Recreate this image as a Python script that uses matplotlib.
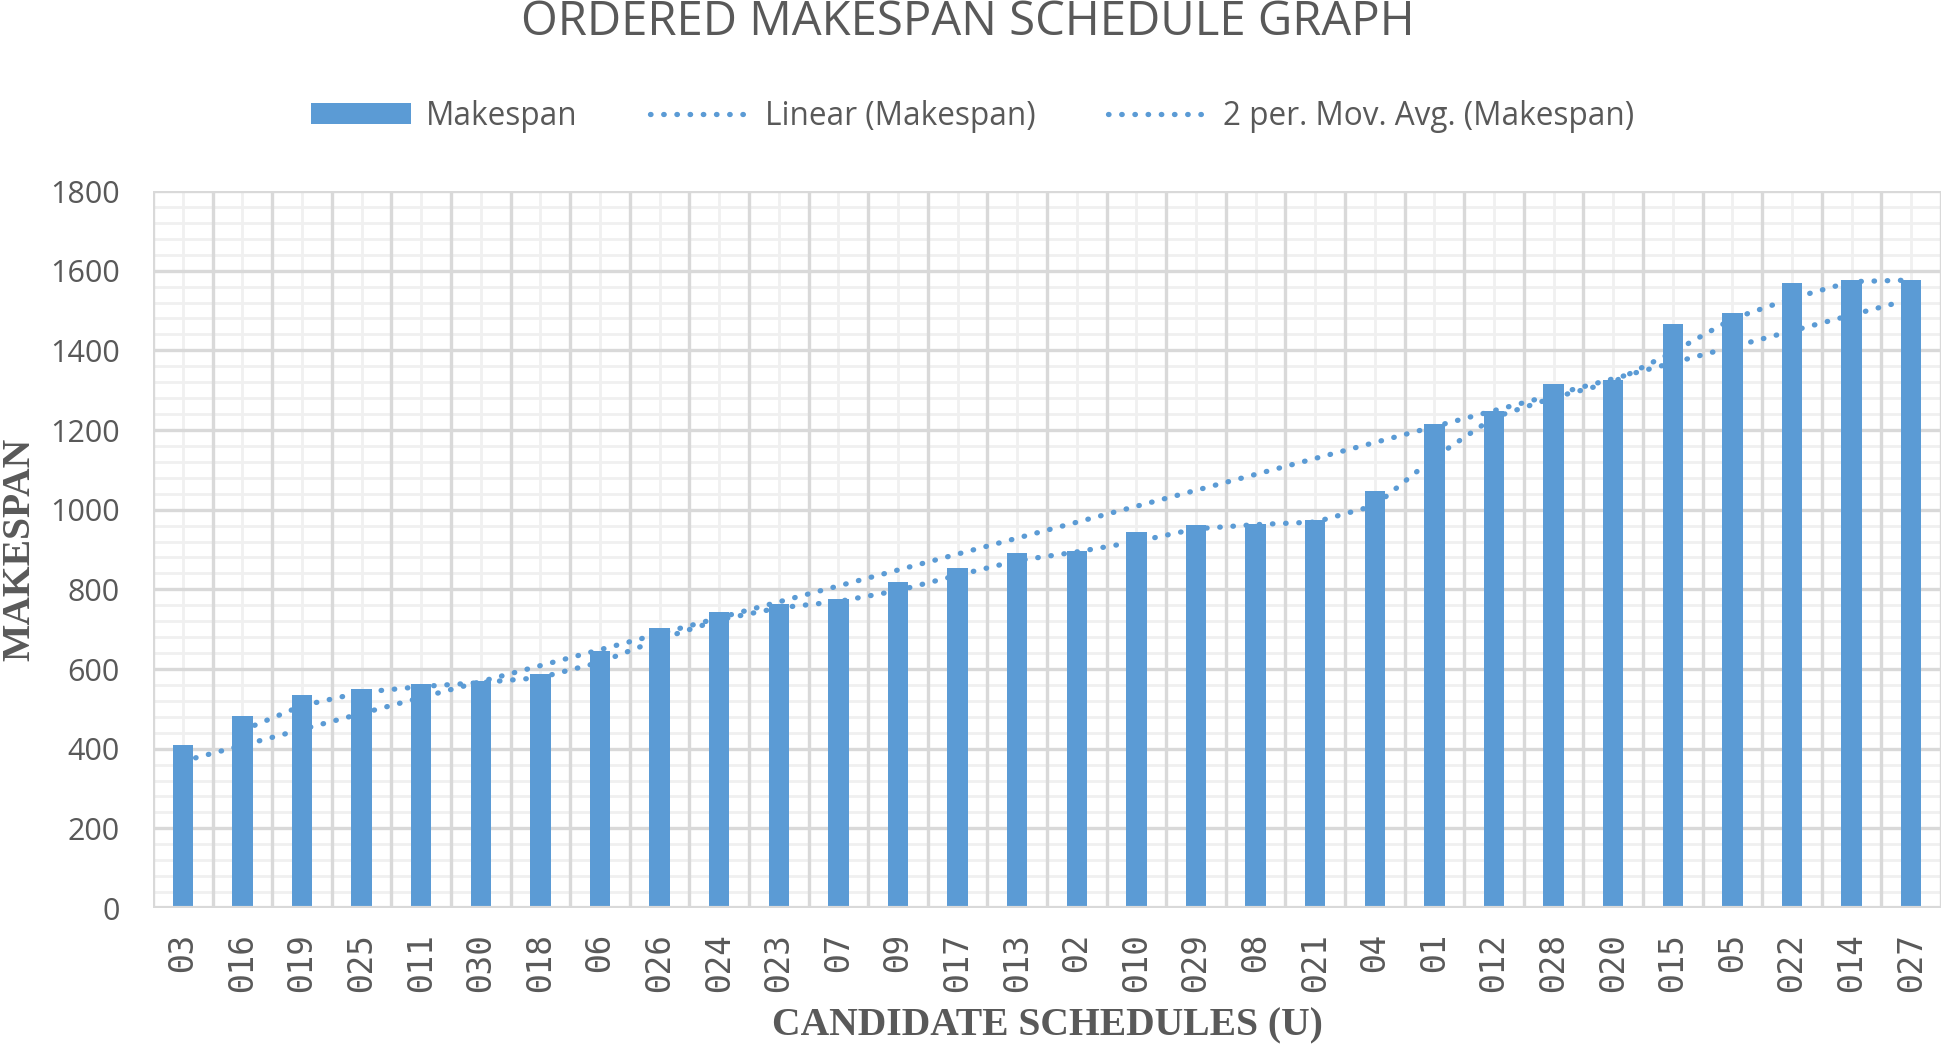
import numpy as np
import matplotlib
matplotlib.use("Agg")
import matplotlib.pyplot as plt
from matplotlib.patches import Patch
from matplotlib.lines import Line2D

categories = ["Θ3", "Θ16", "Θ19", "Θ25", "Θ11", "Θ30", "Θ18", "Θ6", "Θ26", "Θ24",
              "Θ23", "Θ7", "Θ9", "Θ17", "Θ13", "Θ2", "Θ10", "Θ29", "Θ8", "Θ21",
              "Θ4", "Θ1", "Θ12", "Θ28", "Θ20", "Θ15", "Θ5", "Θ22", "Θ14", "Θ27"]
makespan = [410, 482, 534, 549, 563, 569, 588, 646, 703, 744,
            763, 776, 818, 853, 891, 897, 943, 961, 964, 974,
            1047, 1215, 1248, 1315, 1326, 1465, 1493, 1568, 1577, 1576]
y_ticks = [0, 200, 400, 600, 800, 1000, 1200, 1400, 1600, 1800]

title = "ORDERED MAKESPAN SCHEDULE GRAPH"
xlabel = "CANDIDATE SCHEDULES (U)"
ylabel = "MAKESPAN"

BAR = "#5B9BD5"
TXT = "#595959"

fig = plt.figure(figsize=(19.47, 10.49), dpi=100)
ax = fig.add_axes([0.0786, 0.1344, 0.9183, 0.6835])

x = np.arange(len(categories))
vals = np.array(makespan, dtype=float)

ax.bar(x, vals, width=0.34, color=BAR, zorder=3)

# linear trendline
coef = np.polyfit(x, vals, 1)
lin = np.polyval(coef, x)
dot = dict(color=BAR, lw=3.8, linestyle=(0, (0.1, 2.4)), dash_capstyle="round", zorder=4)
ax.plot(x, lin, **dot)
# 2-period moving average
ma = (vals[1:] + vals[:-1]) / 2
ax.plot(x[1:], ma, **dot)

ax.set_xlim(-0.5, len(categories) - 0.5)
ax.set_ylim(0, 1800)
ax.set_yticks(y_ticks)
ax.set_xticks(x)

ax.grid(False)
for v in np.arange(0, 1801, 40):
    if v % 200:
        ax.axhline(v, color="#F0F0F0", lw=2.0, zorder=0)
for v in y_ticks:
    ax.axhline(v, color="#D9D9D9", lw=2.4, zorder=1)
for c in x:
    ax.axvline(c, color="#F0F0F0", lw=2.0, zorder=0)
for b in np.arange(-0.5, len(categories), 1.0):
    ax.axvline(b, color="#D9D9D9", lw=2.4, zorder=1)

for s in ax.spines.values():
    s.set_visible(False)
ax.axhline(0, color="#D9D9D9", lw=3.0, zorder=5)

ax.set_xticklabels(categories, rotation=90, family="DejaVu Sans Mono",
                   fontsize=23.5, color=TXT)
ax.set_yticklabels([str(v) for v in y_ticks], family="Open Sans",
                   fontsize=22, color=TXT)
ax.tick_params(axis="x", which="both", length=0, pad=18)
ax.tick_params(axis="y", which="both", length=0, pad=24)

ax.set_xlabel(xlabel, family="Liberation Serif", fontweight="bold",
              fontsize=28.5, color=TXT)
ax.set_ylabel(ylabel, family="Liberation Serif", fontweight="bold",
              fontsize=28.5, color=TXT)
ax.xaxis.label.set_va("center")
ax.yaxis.label.set_va("center")
ax.yaxis.set_label_coords(-0.0745, 0.5)
ax.xaxis.set_label_coords(0.5, -0.164)

fig.text(0.497, 0.979, title, ha="center", va="center", family="Open Sans",
         fontsize=34, color=TXT)

handles = [Patch(facecolor=BAR, edgecolor="none"),
           Line2D([], [], **dot),
           Line2D([], [], **dot)]
labels = ["Makespan", "Linear (Makespan)", "2 per. Mov. Avg. (Makespan)"]
leg = fig.legend(handles, labels, loc="center", bbox_to_anchor=(0.4994, 0.889),
                 ncol=3, frameon=False, handlelength=3.2, handleheight=0.65,
                 handletextpad=0.45, columnspacing=2.3,
                 prop={"family": "Open Sans", "size": 22.7})
for t in leg.get_texts():
    t.set_color(TXT)

fig.savefig("out.png", dpi=100)
